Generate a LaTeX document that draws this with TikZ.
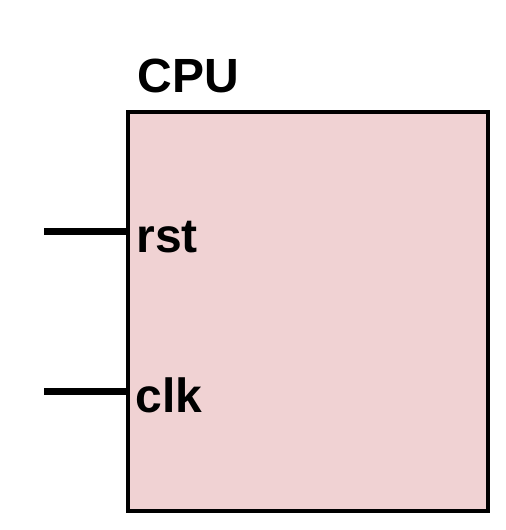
\documentclass[tikz,border=0pt]{standalone}
\usepackage{fontspec}
\setmainfont{Liberation Sans}
\usetikzlibrary{positioning}
\definecolor{cpupink}{RGB}{240,210,211}

\begin{document}
\begin{tikzpicture}[
  x=0.5pt,y=-0.5pt,
  every node/.style={font=\fontsize{24}{29}\selectfont\bfseries},
  block/.style={rectangle,draw=black,fill=cpupink,line width=2pt,inner sep=0pt,minimum width=180.25pt,minimum height=199.75pt},
  pinlabel/.style={anchor=base west,inner sep=0pt},
  wire/.style={line width=3.5pt,draw=black}
]
\useasboundingbox (0,0) rectangle (506,530);
\node[block] (cpu) at (307.75,311.25) {};
\node[pinlabel] (cpuname) at (137,92.7) {CPU};
\node[pinlabel] (rst) at (136,252) {rst};
\node[pinlabel] (clk) at (135,412) {clk};

\coordinate (rstin) at (44,231.5);
\coordinate (clkin) at (44,391.5);
\draw[wire] (rstin) -- (rstin -| cpu.west);
\draw[wire] (clkin) -- (clkin -| cpu.west);
\end{tikzpicture}
\end{document}
